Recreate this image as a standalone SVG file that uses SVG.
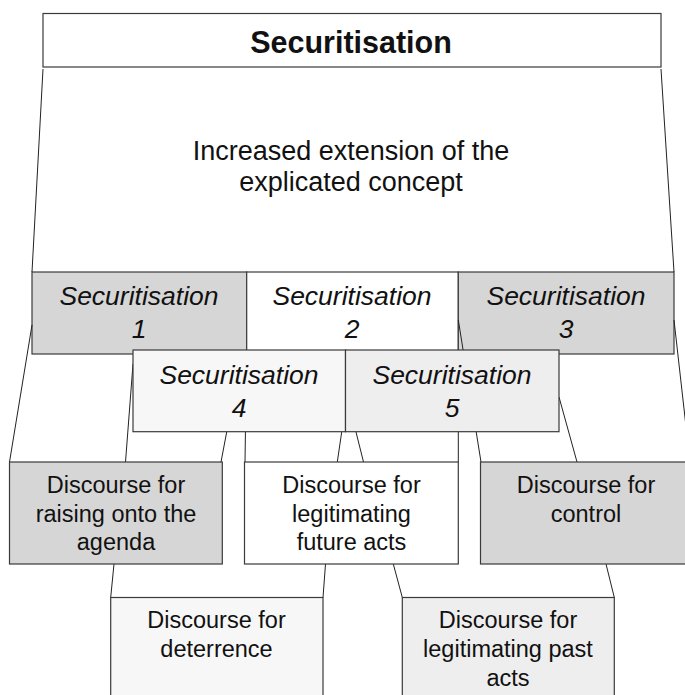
<svg xmlns="http://www.w3.org/2000/svg" width="685" height="695" viewBox="0 0 685 695">
<style>
  .box { stroke: #3a3a3a; stroke-width: 1.2; }
  .white { fill: #ffffff; }
  .gray { fill: #d6d6d6; }
  .light { fill: #f7f7f7; }
  .mid { fill: #eeeeee; }
  .conn line { stroke: #222222; stroke-width: 1; fill: none; }
  text { font-family: "Liberation Sans", Arial, sans-serif; fill: #111111; text-anchor: middle; }
  .title { font-size: 30.5px; font-weight: bold; }
  .body { font-size: 27px; }
  .sec { font-size: 26.5px; font-style: italic; }
  .disc { font-size: 23.5px; }
</style>
<rect x="0" y="0" width="685" height="695" fill="#ffffff"/>

<g id="securitisation">
  <rect class="box white" x="43" y="13.5" width="618" height="53.5"/>
  <text class="title" x="351" y="52.5">Securitisation</text>
</g>
<g id="extension-label">
  <text class="body" x="351" y="159.5">Increased extension of the</text>
  <text class="body" x="351" y="190.5">explicated concept</text>
</g>

<g id="sec1">
  <rect class="box gray" x="32" y="272" width="214.7" height="82"/>
  <text class="sec" x="139" y="305">Securitisation</text>
  <text class="sec" x="139" y="338">1</text>
</g>
<g id="sec2">
  <rect class="box white" x="246.7" y="272" width="211.6" height="82"/>
  <text class="sec" x="352" y="305">Securitisation</text>
  <text class="sec" x="352" y="338">2</text>
</g>
<g id="sec3">
  <rect class="box gray" x="458.3" y="272" width="215.7" height="82"/>
  <text class="sec" x="566" y="305">Securitisation</text>
  <text class="sec" x="566" y="338">3</text>
</g>

<g id="connectors" class="conn">
  <line x1="43" y1="69" x2="32" y2="272"/>
  <line x1="661" y1="69" x2="674" y2="272"/>
  <line x1="32" y1="325" x2="9.5" y2="462"/>
  <line x1="674" y1="320" x2="690" y2="462"/>
  <line x1="458.3" y1="320" x2="481" y2="462"/>
  <line x1="133" y1="364" x2="125.5" y2="462"/>
  <line x1="226.7" y1="432" x2="221" y2="462"/>
  <line x1="246.5" y1="354" x2="245" y2="462"/>
  <line x1="341.7" y1="432" x2="337.3" y2="462"/>
  <line x1="356" y1="432" x2="363.5" y2="462"/>
  <line x1="458.3" y1="354" x2="458.3" y2="462"/>
  <line x1="559" y1="397" x2="577" y2="462"/>
  <line x1="114" y1="564" x2="110.7" y2="597.5"/>
  <line x1="325.5" y1="564" x2="323" y2="597.5"/>
  <line x1="393.3" y1="564" x2="402.3" y2="597.5"/>
  <line x1="606" y1="564" x2="614.3" y2="597.5"/>
</g>

<g id="sec4">
  <rect class="box light" x="133" y="350" width="212.5" height="81.7"/>
  <text class="sec" x="239" y="384">Securitisation</text>
  <text class="sec" x="239" y="416.5">4</text>
</g>
<g id="sec5">
  <rect class="box mid" x="345.5" y="350" width="213.5" height="81.7"/>
  <text class="sec" x="452" y="384">Securitisation</text>
  <text class="sec" x="452" y="416.5">5</text>
</g>

<g id="discourse-agenda">
  <rect class="box gray" x="9.5" y="462" width="212.8" height="102"/>
  <text class="disc" x="116" y="493">Discourse for</text>
  <text class="disc" x="116" y="521.5">raising onto the</text>
  <text class="disc" x="116" y="550">agenda</text>
</g>
<g id="discourse-future">
  <rect class="box white" x="244.5" y="462" width="213.8" height="102"/>
  <text class="disc" x="351.5" y="493">Discourse for</text>
  <text class="disc" x="351.5" y="521.5">legitimating</text>
  <text class="disc" x="351.5" y="550">future acts</text>
</g>
<g id="discourse-control">
  <rect class="box gray" x="480.5" y="462" width="212" height="102"/>
  <text class="disc" x="586" y="493">Discourse for</text>
  <text class="disc" x="586" y="521.5">control</text>
</g>
<g id="discourse-deterrence">
  <rect class="box light" x="110.7" y="597.5" width="212.3" height="110"/>
  <text class="disc" x="216.5" y="628">Discourse for</text>
  <text class="disc" x="216.5" y="657">deterrence</text>
</g>
<g id="discourse-past">
  <rect class="box mid" x="402.3" y="597.5" width="212" height="110"/>
  <text class="disc" x="508" y="628">Discourse for</text>
  <text class="disc" x="508" y="657">legitimating past</text>
  <text class="disc" x="508" y="685.5">acts</text>
</g>
</svg>
